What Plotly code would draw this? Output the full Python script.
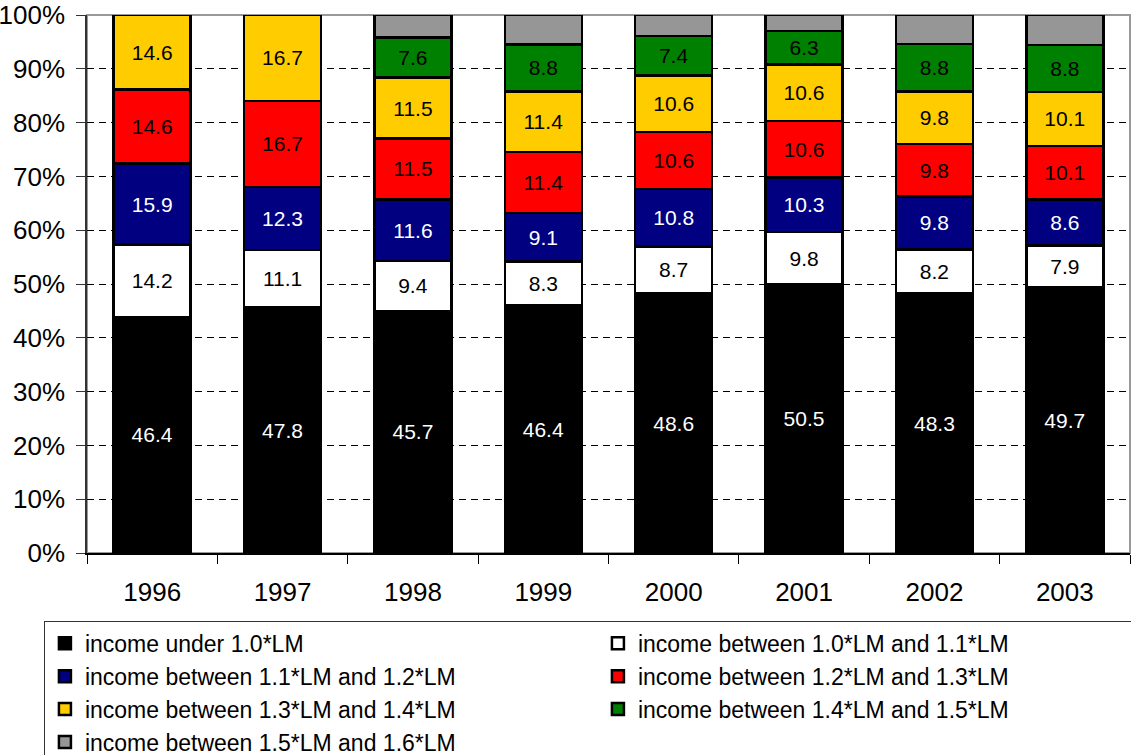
import plotly.graph_objects as go

years = ["1996", "1997", "1998", "1999", "2000", "2001", "2002", "2003"]

series_names = [
    "income under 1.0*LM",
    "income between 1.0*LM and 1.1*LM",
    "income between 1.1*LM and 1.2*LM",
    "income between 1.2*LM and 1.3*LM",
    "income between 1.3*LM and 1.4*LM",
    "income between 1.4*LM and 1.5*LM",
    "income between 1.5*LM and 1.6*LM",
]

under_10 = [46.4, 47.8, 45.7, 46.4, 48.6, 50.5, 48.3, 49.7]
b10_11 = [14.2, 11.1, 9.4, 8.3, 8.7, 9.8, 8.2, 7.9]
b11_12 = [15.9, 12.3, 11.6, 9.1, 10.8, 10.3, 9.8, 8.6]
b12_13 = [14.6, 16.7, 11.5, 11.4, 10.6, 10.6, 9.8, 10.1]
b13_14 = [14.6, 16.7, 11.5, 11.4, 10.6, 10.6, 9.8, 10.1]
b14_15 = [0, 0, 7.6, 8.8, 7.4, 6.3, 8.8, 8.8]
b15_16 = [0, 0, 4.2, 5.5, 3.9, 3.0, 5.4, 5.6]

series_values = [under_10, b10_11, b11_12, b12_13, b13_14, b14_15, b15_16]
colors = ["#000000", "#FFFFFF", "#000080", "#FF0000", "#FFCC00", "#008000", "#969696"]
text_colors = ["#FFFFFF", "#000000", "#FFFFFF", "#000000", "#000000", "#000000", "#000000"]
show_labels = [True, True, True, True, True, True, False]

FONT = "Liberation Sans, Arial, sans-serif"

fig = go.Figure()
for name, vals, col, tcol, lab in zip(series_names, series_values, colors, text_colors, show_labels):
    texts = [(f"{v:.1f}" if (lab and v > 0) else "") for v in vals]
    fig.add_trace(go.Bar(
        x=years, y=vals, name=name,
        marker=dict(color=col, line=dict(color="#000000", width=2.5)),
        text=texts, textposition="inside", insidetextanchor="middle",
        textangle=0, constraintext="none",
        textfont=dict(family=FONT, size=21, color=tcol),
        hoverinfo="skip",
    ))

fig.update_layout(
    barmode="stack", barnorm="percent", bargap=0.41,
    width=1131, height=755,
    margin=dict(l=87, r=1, t=15, b=202, autoexpand=False),
    paper_bgcolor="white", plot_bgcolor="white",
    font=dict(family=FONT, size=26, color="#000000"),
    showlegend=True,
    legend=dict(
        orientation="h", traceorder="normal",
        x=-0.0413, xanchor="left", y=-0.126, yanchor="top",
        entrywidth=508, entrywidthmode="pixels",
        bordercolor="#333333", borderwidth=1,
        font=dict(family=FONT, size=23, color="#000000"),
        itemwidth=30, tracegroupgap=0,
    ),
    shapes=[dict(type="rect", xref="paper", yref="paper", x0=0, x1=1, y0=0, y1=1,
                 line=dict(color="#999999", width=2), layer="below")],
)

fig.update_yaxes(
    range=[0, 100], dtick=10, ticksuffix="%",
    showgrid=True, gridcolor="#000000", gridwidth=1, griddash="7px,5px",
    showline=True, linecolor="#333333", linewidth=1.5,
    ticks="outside", ticklen=9, tickcolor="#333333",
    ticklabelstandoff=6,
    tickfont=dict(family=FONT, size=26, color="#000000"),
    zeroline=False,
)
fig.update_xaxes(
    showgrid=False, showline=True, linecolor="#000000", linewidth=1.5,
    ticks="outside", ticklen=9, tickcolor="#000000", tickson="boundaries",
    ticklabelstandoff=15,
    tickfont=dict(family=FONT, size=26, color="#000000"),
)

fig.write_html(
    "out.html",
    config={"displayModeBar": False},
    post_script="document.body.style.margin='0';document.body.style.overflow='hidden';",
)
